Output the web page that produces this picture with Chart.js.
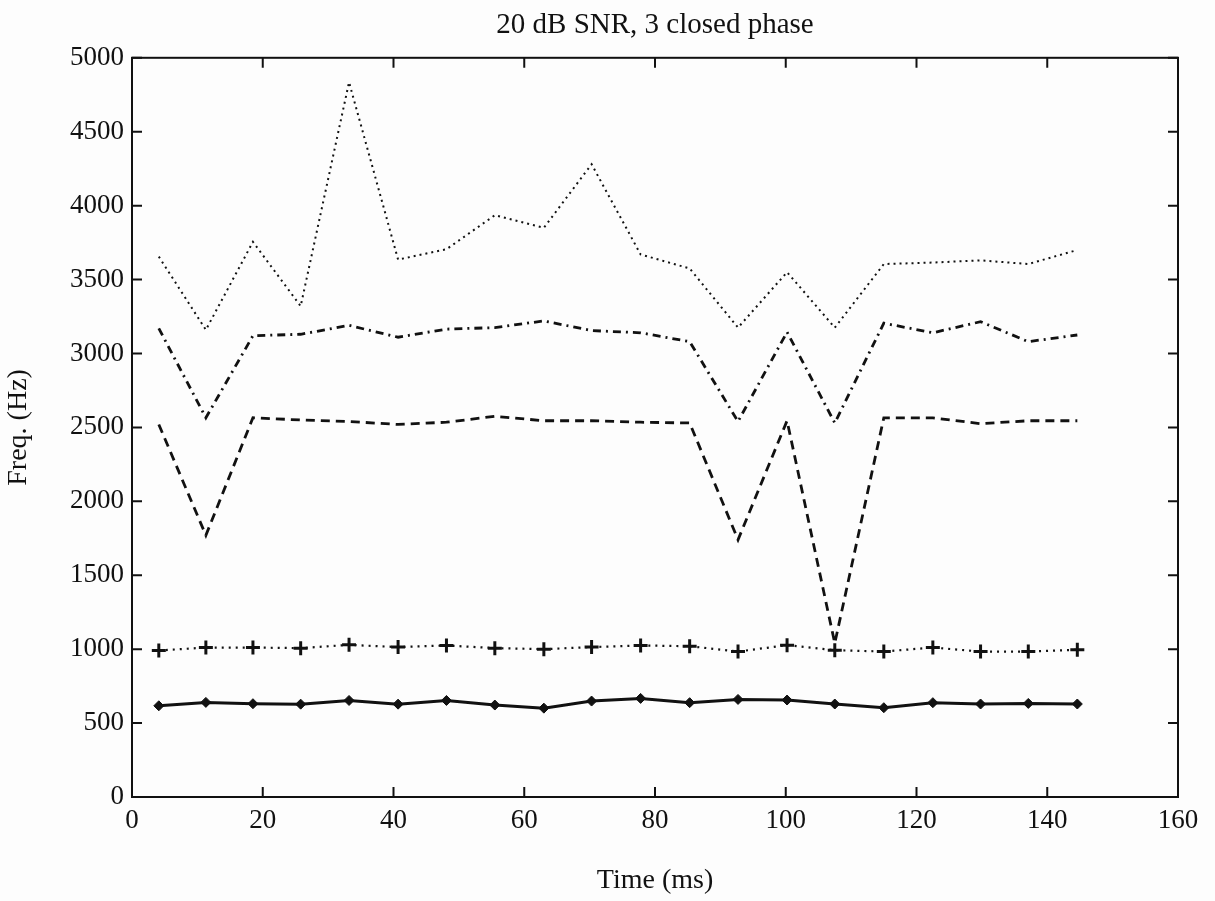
<!DOCTYPE html>
<html>
<head>
<meta charset="utf-8">
<script src="https://cdn.jsdelivr.net/npm/chart.js@4/dist/chart.umd.min.js"></script>
<style>
  html, body { margin: 0; padding: 0; background: #fdfdfd; }
  canvas { display: block; }
</style>
</head>
<body>
<canvas id="c" width="1215" height="901"></canvas>
<script>
// ---- data ----
const times = [4.1, 11.3, 18.5, 25.8, 33.2, 40.7, 48.1, 55.5, 63.0, 70.3, 77.8, 85.3, 92.7, 100.2, 107.5, 115.0, 122.5, 129.8, 137.1, 144.6];
const f1 = [617, 640, 631, 628, 653, 628, 653, 622, 601, 649, 667, 638, 660, 656, 629, 604, 638, 629, 633, 629];
const f2 = [991, 1011, 1011, 1007, 1029, 1014, 1025, 1007, 1000, 1014, 1025, 1020, 984, 1027, 993, 984, 1011, 984, 984, 996];
const f3 = [2520, 1770, 2565, 2550, 2540, 2520, 2535, 2575, 2545, 2545, 2535, 2530, 1740, 2545, 1040, 2565, 2565, 2525, 2545, 2545];
const f4 = [3170, 2565, 3120, 3130, 3190, 3110, 3165, 3175, 3220, 3155, 3140, 3080, 2540, 3145, 2530, 3205, 3140, 3215, 3080, 3125];
const f5 = [3655, 3160, 3755, 3320, 4835, 3635, 3705, 3935, 3850, 4280, 3670, 3575, 3175, 3550, 3175, 3605, 3615, 3630, 3605, 3700];
const titleText = '20 dB SNR, 3 closed phase';
const xTitle = 'Time (ms)';
const yTitle = 'Freq. (Hz)';

const pts = ys => ys.map((y, i) => ({ x: times[i], y }));
const FONT = '"Liberation Serif", "DejaVu Serif", serif';

// frame + inward ticks on all four sides, from the chart's own scales
const framePlugin = {
  id: 'frame',
  afterDraw(chart) {
    const { ctx, chartArea: a, scales: { x, y } } = chart;
    ctx.save();
    ctx.strokeStyle = '#111';
    ctx.lineWidth = 2;
    ctx.strokeRect(a.left, a.top, a.right - a.left, a.bottom - a.top);
    const L = 10;
    ctx.beginPath();
    x.ticks.forEach(t => {
      const px = x.getPixelForValue(t.value);
      ctx.moveTo(px, a.bottom); ctx.lineTo(px, a.bottom - L);
      ctx.moveTo(px, a.top); ctx.lineTo(px, a.top + L);
    });
    y.ticks.forEach(t => {
      const py = y.getPixelForValue(t.value);
      ctx.moveTo(a.left, py); ctx.lineTo(a.left + L, py);
      ctx.moveTo(a.right, py); ctx.lineTo(a.right - L, py);
    });
    ctx.stroke();
    ctx.restore();
  }
};

const base = { showLine: true, fill: false, borderColor: '#111', backgroundColor: '#111', tension: 0 };

new Chart(document.getElementById('c'), {
  type: 'scatter',
  data: {
    datasets: [
      Object.assign({}, base, { label: 'F1', data: pts(f1), borderWidth: 3, pointStyle: 'rectRot', pointRadius: 5, pointBorderWidth: 1 }),
      Object.assign({}, base, { label: 'F2', data: pts(f2), borderWidth: 2.2, borderDash: [2, 5], pointStyle: 'cross', pointRadius: 7, pointBorderWidth: 3 }),
      Object.assign({}, base, { label: 'F3', data: pts(f3), borderWidth: 2.8, borderDash: [9, 6], pointRadius: 0 }),
      Object.assign({}, base, { label: 'F4', data: pts(f4), borderWidth: 2.8, borderDash: [8, 5, 2, 5], pointRadius: 0 }),
      Object.assign({}, base, { label: 'F5', data: pts(f5), borderWidth: 2, borderDash: [2, 4], pointRadius: 0 })
    ]
  },
  options: {
    responsive: false,
    animation: false,
    devicePixelRatio: 1,
    layout: { padding: { left: 0, right: 37, top: 0, bottom: 0 } },
    plugins: {
      legend: { display: false },
      tooltip: { enabled: false },
      title: {
        display: true, text: titleText, color: '#111', fullSize: false,
        font: { family: FONT, size: 29, weight: 'normal' },
        padding: { top: 8, bottom: 15 }
      }
    },
    scales: {
      x: {
        type: 'linear', min: 0, max: 160,
        grid: { display: false, drawTicks: false },
        border: { display: false },
        ticks: { stepSize: 20, color: '#111', padding: 8, maxRotation: 0, font: { family: FONT, size: 27 }, callback: v => String(v) },
        title: { display: true, text: xTitle, color: '#111', font: { family: FONT, size: 28 }, padding: { top: 0, bottom: 4 } },
        afterFit(s) { s.height = 104; }
      },
      y: {
        type: 'linear', min: 0, max: 5000,
        grid: { display: false, drawTicks: false },
        border: { display: false },
        ticks: { stepSize: 500, color: '#111', padding: 8, font: { family: FONT, size: 27 }, callback: v => String(v) },
        title: { display: true, text: yTitle, color: '#111', font: { family: FONT, size: 28 }, padding: { top: 2, bottom: 0 } },
        afterFit(s) { s.width = 132; }
      }
    }
  },
  plugins: [framePlugin]
});
</script>
</body>
</html>
